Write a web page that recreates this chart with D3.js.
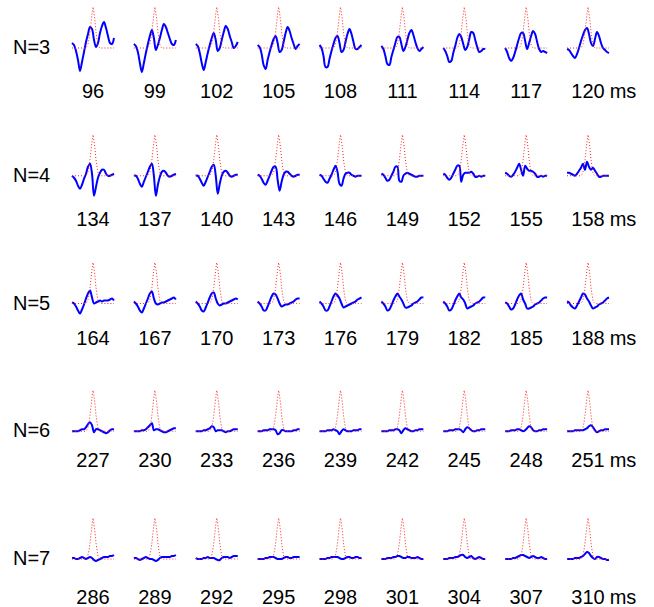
<!DOCTYPE html>
<html>
<head>
<meta charset="utf-8">
<script src="https://cdn.jsdelivr.net/npm/d3@7"></script>
<style>
  body { margin: 0; background: #fff; }
  text { font-family: "Liberation Sans", Arial, sans-serif; fill: #000; }
</style>
</head>
<body>
<script>
// row labels and latency (ms) of each panel
var rowLabels = ["N=3", "N=4", "N=5", "N=6", "N=7"];
var latN3 = [96, 99, 102, 105, 108, 111, 114, 117, 120];
var latN4 = [134, 137, 140, 143, 146, 149, 152, 155, 158];
var latN5 = [164, 167, 170, 173, 176, 179, 182, 185, 188];
var latN6 = [227, 230, 233, 236, 239, 242, 245, 248, 251];
var latN7 = [286, 289, 292, 295, 298, 301, 304, 307, 310];

// sample lags of the blue traces (22 samples) and of the red template (43 samples)
var blueLags = [0, 2, 4, 6, 8, 10, 12, 14, 16, 18, 20, 22, 24, 26, 28, 30, 32, 34, 36, 38, 40, 42];
var redLags = d3.range(0, 43);

// red dotted template (same in every panel)
var redTemplate = [0, 0, 0, 0, 0, 0, 0, 0, 0, 0, 0, 0, 0, 0,
  0.5, 1.5, 4, 9, 16, 25, 34, 41, 35, 27, 16, 9, 3, 1,
  0, 0, 0, 0, 0, 0, 0, 0, 0, 0, 0, 0, 0, 0, 0];

// blue traces, one per panel
var wavesN3 = [
  [5, 3, -3, -12, -23, -14, -4, 6, 14, 21, 19, 8, 1, 5, 15, 22, 26, 20, 12, 5, 4, 10],
  [4, 2, -4, -15, -24, -15, -5, 4, 12, 18, 10, -2, 3, 10, 18, 24, 21, 15, 9, 4, 3, 8],
  [4, 2, -5, -15, -22, -14, -5, 3, 10, 15, 8, -3, 0, 8, 16, 22, 19, 12, 6, 0, 2, 6],
  [3, 1, -6, -17, -21, -12, -4, 3, 9, 12, 5, -4, -2, 6, 15, 21, 17, 10, 4, -1, 2, 4],
  [3, 0, -8, -19, -19, -11, -3, 4, 10, 12, 5, -4, -2, 6, 14, 19, 14, 6, -1, -1, 1, 3],
  [2, -1, -8, -16, -17, -9, -2, 5, 11, 11, 4, -3, 1, 8, 15, 18, 13, 6, 0, -3, -1, 1],
  [0, -3, -8, -14, -13, -5, 2, 10, 14, 11, 4, -2, 1, 9, 16, 15, 8, 1, -4, -3, -1, -1],
  [0, -4, -10, -13, -10, -4, 3, 10, 15, 15, 7, -1, 5, 12, 17, 14, 6, -1, -4, -3, -4, -5],
  [-1, -2, -5, -8, -10, -6, 0, 7, 13, 18, 20, 14, 5, 2, 9, 16, 12, 5, 0, -2, -4, -5]
];
var wavesN4 = [
  [0, -2, -5, -10, -13, -9, -3, 2, 9, 12, 2, -20, -11, -2, 3, 6, 6, 2, 0, 0, 1, 2],
  [0, 0, -3, -8, -11, -6, -1, 4, 9, 12, 0, -20, -9, -1, 4, 5, 3, 0, -1, 0, 1, 2],
  [0, 0, -3, -7, -10, -6, -1, 4, 9, 11, 0, -18, -8, 0, 4, 5, 3, 0, -1, 0, 1, 1],
  [1, 0, -3, -7, -9, -5, 0, 5, 9, 9, -4, -15, -6, 1, 4, 4, 2, 0, -1, 0, 1, 1],
  [1, 0, -3, -6, -7, -3, 1, 6, 10, 4, -8, -10, -3, 2, 3, 3, 1, 0, -1, 0, 0, 0],
  [2, 1, -2, -5, -4, 0, 4, 9, 9, -5, -6, 0, 2, 3, 2, 1, 0, -1, -1, 0, 0, 0],
  [2, 1, -2, -4, -2, 2, 6, 10, 10, -6, 1, 3, 3, 3, 4, 2, -1, -1, 0, -1, 0, 0],
  [3, 2, 0, -1, 1, 4, 8, 12, 6, 0, 10, 7, 5, 5, 4, 2, -1, -1, 0, -1, 0, 0],
  [3, 3, 2, 1, 0, 2, 5, 8, 12, 6, 14, 9, 6, 8, 5, 2, -1, -1, 0, 0, 0, 0]
];
var wavesN5 = [
  [1, 0, -3, -7, -10, -6, -1, 5, 10, 13, 6, 0, 1, 2, 3, 2, 3, 3, 3, 4, 5, 3],
  [2, 0, -3, -7, -9, -5, 0, 5, 10, 12, 5, 0, -1, 0, 1, 1, 2, 3, 4, 5, 6, 4],
  [2, 0, -3, -7, -8, -4, 1, 6, 10, 11, 5, 0, -2, -1, 0, 0, 1, 2, 3, 4, 5, 4],
  [2, 0, -3, -7, -7, -3, 2, 7, 10, 9, 5, 0, -3, -2, -1, -1, 0, 1, 2, 4, 5, 5],
  [2, 0, -3, -7, -7, -3, 2, 7, 10, 8, 5, 0, -4, -3, -2, -1, 0, 1, 2, 4, 5, 6],
  [2, 0, -3, -7, -6, -2, 3, 7, 10, 7, 4, 0, -4, -4, -3, -2, 0, 1, 2, 4, 6, 6],
  [2, 0, -3, -7, -6, -2, 3, 7, 10, 6, 4, 0, -5, -4, -3, -2, 0, 1, 2, 4, 6, 6],
  [1, 0, -3, -6, -5, -1, 4, 8, 10, 4, 0, -5, -5, -4, -3, -1, 0, 1, 3, 5, 6, 6],
  [2, 1, -2, -4, -5, -2, 2, 6, 10, 9, 5, 2, -2, -5, -4, -3, -1, 0, 1, 3, 5, 6]
];
var wavesN6 = [
  [0, 0, 0, 0, 1, 2, 2, 4, 7, 9, 6, -1, 2, 2, 1, 0, -1, -2, -1, 1, 2, 2],
  [0, 0, 0, 0, 1, 1, 2, 4, 6, 8, 1, 2, 2, 1, 0, -1, -1, 0, 1, 2, 3, 3],
  [0, 0, 0, 0, 1, 1, 2, 3, 5, 4, 0, 1, 1, 1, 0, -1, 0, 0, 1, 2, 2, 2],
  [0, 0, 0, 1, 1, 1, 2, 2, 2, 1, -3, -2, 1, 1, 0, 0, 0, 0, 1, 1, 2, 2],
  [0, 0, 0, 0, 1, 1, 1, 2, 1, 0, -3, 0, 2, 1, 0, 0, 0, 1, 1, 1, 2, 2],
  [0, 0, 0, 0, 1, 1, 1, 2, 2, 1, -2, 1, 3, 2, 1, 0, 0, 1, 1, 2, 2, 2],
  [0, 0, 0, 1, 1, 1, 2, 2, 2, 1, -1, 2, 4, 3, 1, 0, 0, 1, 1, 2, 2, 2],
  [0, 0, 0, 1, 1, 1, 2, 2, 1, 0, 1, 3, 5, 4, 1, 0, 0, 1, 1, 2, 2, 2],
  [0, 0, 0, 0, 1, 1, 1, 1, 1, 2, 3, 5, 6, 4, 1, -1, 0, 1, 1, 2, 2, 2]
];
var wavesN7 = [
  [1, 1, 0, 0, 1, 2, 1, 0, 1, 2, 1, -1, -2, -1, 0, 1, 2, 2, 2, 3, 3, 4],
  [1, 1, 0, -1, 0, 1, 2, 1, 0, 0, -1, -2, -1, 1, 2, 2, 2, 2, 2, 3, 3, 4],
  [1, 0, 0, 0, 1, 1, 2, 1, 1, 1, 0, -1, -1, 1, 2, 2, 2, 1, 2, 3, 3, 3],
  [0, 0, 0, 0, 1, 1, 2, 2, 2, 1, 0, 0, 0, 1, 2, 2, 1, 1, 2, 2, 2, 2],
  [0, 0, 0, 0, 1, 1, 2, 2, 2, 2, 1, 0, 0, 1, 2, 2, 1, 1, 2, 2, 1, 1],
  [0, 0, 0, 1, 1, 1, 2, 2, 3, 3, 2, 1, 1, 2, 2, 1, 1, 1, 2, 1, 0, 0],
  [0, 0, 0, 1, 1, 1, 2, 2, 3, 4, 4, 2, 1, 2, 3, 1, 0, 1, 2, 1, 0, 0],
  [0, 0, 0, 0, 1, 1, 2, 3, 4, 4, 3, 2, 1, 2, 3, 2, 1, 1, 2, 1, 0, 0],
  [0, 0, 0, 0, 1, 1, 1, 2, 3, 5, 7, 6, 3, 1, 0, 2, 2, 1, 0, 0, -1, -1]
];

var rows = [
  {label: rowLabels[0], lat: latN3, waves: wavesN3},
  {label: rowLabels[1], lat: latN4, waves: wavesN4},
  {label: rowLabels[2], lat: latN5, waves: wavesN5},
  {label: rowLabels[3], lat: latN6, waves: wavesN6},
  {label: rowLabels[4], lat: latN7, waves: wavesN7}
];

// layout
var width = 654, height = 607;
var panelW = 42;
var labelDrop = [50, 50, 41, 36, 45]; // latency label baseline below the zero line

var svg = d3.select("body").append("svg")
  .attr("width", width)
  .attr("height", height);

var colX = d3.scaleLinear().domain([0, 8]).range([72, 567]);
var rowY = d3.scaleLinear().domain([0, 4]).range([48, 559]);

// inside one panel
var x = d3.scaleLinear().domain([0, 42]).range([0, panelW]);
var y = d3.scaleLinear().domain([0, 41]).range([0, -41]);

var blueLine = d3.line()
  .x(function(d, i) { return x(blueLags[i]); })
  .y(function(d) { return y(d); })
  .curve(d3.curveCatmullRom.alpha(0.5));

var redLine = d3.line()
  .x(function(d, i) { return x(redLags[i]); })
  .y(function(d) { return y(d); });

rows.forEach(function(row, r) {
  var g = svg.append("g")
    .attr("transform", "translate(0," + rowY(r) + ")");

  g.append("text")
    .attr("x", 13)
    .attr("y", 6)
    .style("font-size", "20px")
    .text(row.label);

  row.waves.forEach(function(w, c) {
    var p = g.append("g")
      .attr("transform", "translate(" + colX(c) + ",0)");

    p.append("path")
      .attr("d", blueLine(w))
      .attr("fill", "none")
      .attr("stroke", "#0000ff")
      .attr("stroke-width", 2)
      .attr("stroke-linejoin", "round");

    p.append("path")
      .attr("d", redLine(redTemplate))
      .attr("fill", "none")
      .attr("stroke", "#ff2020")
      .attr("stroke-width", 1)
      .attr("stroke-dasharray", "1,2");

    var t = p.append("text")
      .attr("x", panelW / 2)
      .attr("y", labelDrop[r])
      .attr("text-anchor", "middle")
      .style("font-size", "20px")
      .text(row.lat[c]);

    if (c === 8) {
      var w0 = t.node().getComputedTextLength();
      p.append("text")
        .attr("x", panelW / 2 + w0 / 2 + 5)
        .attr("y", labelDrop[r])
        .style("font-size", "20px")
        .text("ms");
    }
  });
});
</script>
</body>
</html>
